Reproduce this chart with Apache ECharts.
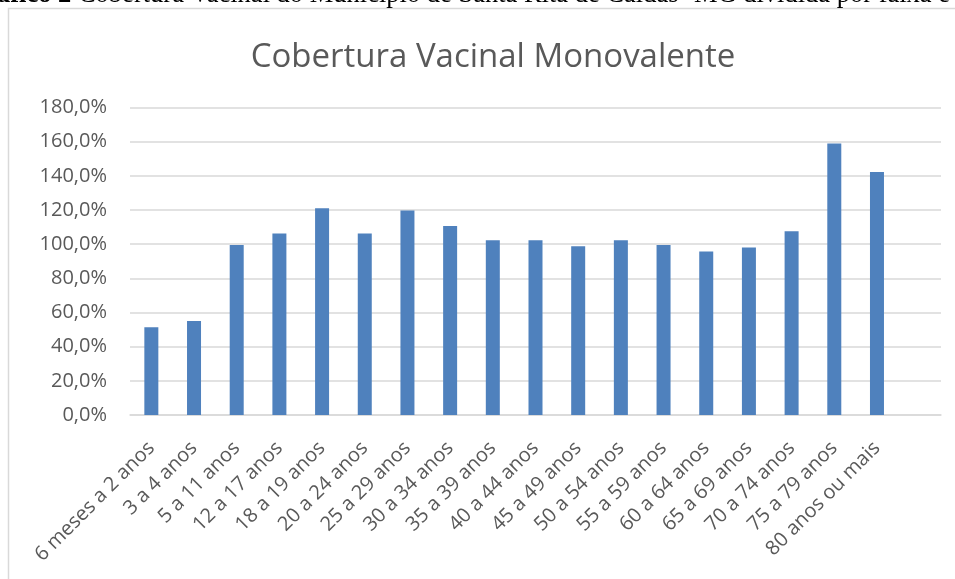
<!DOCTYPE html>
<html>
<head>
<meta charset="utf-8">
<script src="https://cdn.jsdelivr.net/npm/echarts@6/dist/echarts.min.js"></script>
<style>
  html, body { margin: 0; padding: 0; background: #fff; }
  #chart { width: 955px; height: 579px; }
</style>
</head>
<body>
<div id="chart"></div>
<script>
// the source sheet has one trailing empty category, which leaves room after the last bar
const categories = ['6 meses a 2 anos', '3 a 4 anos', '5 a 11 anos', '12 a 17 anos', '18 a 19 anos',
  '20 a 24 anos', '25 a 29 anos', '30 a 34 anos', '35 a 39 anos', '40 a 44 anos', '45 a 49 anos',
  '50 a 54 anos', '55 a 59 anos', '60 a 64 anos', '65 a 69 anos', '70 a 74 anos', '75 a 79 anos',
  '80 anos ou mais', '']
// cobertura em %
const coverage = [51.3, 55.0, 99.5, 106.2, 121.0, 106.2, 119.7, 110.7, 102.3, 102.3, 98.8,
  102.3, 99.5, 95.7, 98.0, 107.6, 158.9, 142.3, null]
const yTicks = { min: 0, max: 180, step: 20 }
const chartTitle = 'Cobertura Vacinal Monovalente'
const captionBold = 'áfico 2'
const captionRest = ' Cobertura Vacinal do Município de Santa Rita de Caldas- MG dividida por faixa e'

const gray = '#595959'
const font = 'Open Sans'

const myChart = echarts.init(document.getElementById('chart'))

const option = {
  backgroundColor: '#fff',
  animation: false,
  title: {
    text: chartTitle,
    left: 488,
    textAlign: 'center',
    top: 36,
    textStyle: { fontFamily: font, fontSize: 33, fontWeight: 'normal', color: gray }
  },
  graphic: [
    {
      // moldura do gráfico
      type: 'rect',
      shape: { x: 8.5, y: 8.5, width: 1000, height: 620 },
      style: { fill: 'none', stroke: '#d9d9d9', lineWidth: 1.5 },
      silent: true
    },
    {
      // legenda do documento, cortada no topo
      type: 'text',
      x: -3,
      y: 9,
      style: {
        text: '{b|' + captionBold + '}{n|' + captionRest + '}',
        verticalAlign: 'bottom',
        rich: {
          b: { fontFamily: 'Liberation Serif', fontSize: 26.5, fontWeight: 'bold', fill: '#000' },
          n: { fontFamily: 'Liberation Serif', fontSize: 26.5, fill: '#000' }
        }
      },
      silent: true
    }
  ],
  grid: { left: 130, right: 14, top: 107.5, bottom: 164 },
  xAxis: {
    type: 'category',
    data: categories,
    axisLine: { lineStyle: { color: '#d9d9d9', width: 1.5 } },
    axisTick: { show: false },
    axisLabel: {
      interval: 0,
      rotate: 45,
      margin: 30,
      color: gray,
      fontFamily: font,
      fontSize: 20
    }
  },
  yAxis: {
    type: 'value',
    min: yTicks.min,
    max: yTicks.max,
    interval: yTicks.step,
    axisLine: { show: false },
    axisTick: { show: false },
    splitLine: { lineStyle: { color: '#d9d9d9', width: 1.5 } },
    axisLabel: {
      margin: 23,
      color: gray,
      fontFamily: font,
      fontSize: 20,
      formatter: (v) => v.toFixed(1).replace('.', ',') + '%'
    }
  },
  series: [
    {
      name: 'Cobertura',
      type: 'bar',
      data: coverage,
      barWidth: 14,
      itemStyle: { color: '#4f81bd' }
    }
  ]
}

myChart.setOption(option)
</script>
</body>
</html>
